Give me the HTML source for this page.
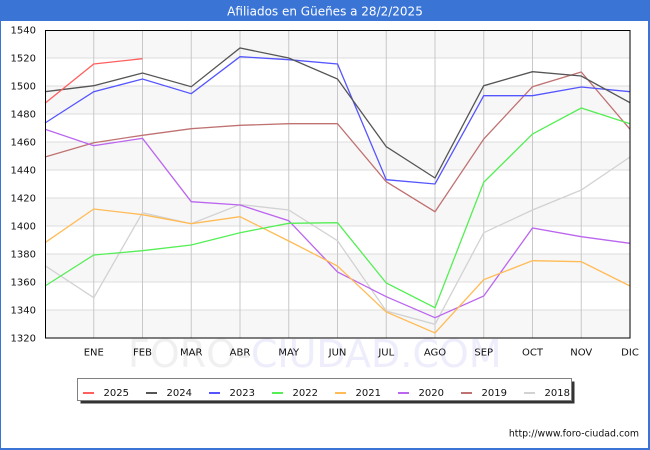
<!DOCTYPE html>
<html>
<head>
<meta charset="utf-8">
<style>
html,body{margin:0;padding:0;background:#fff;}
body{width:650px;height:450px;overflow:hidden;}
svg{display:block;}
text{font-family:"DejaVu Sans","Liberation Sans",sans-serif;}
</style>
</head>
<body>
<svg width="650" height="450" viewBox="0 0 650 450" xmlns="http://www.w3.org/2000/svg">
  <!-- outer border -->
  <rect x="0" y="0" width="650" height="450" fill="#fff"/>
  <rect x="0.5" y="0.5" width="648" height="448.5" fill="none" stroke="#3a75d6" stroke-width="1"/>
  <rect x="648" y="0" width="2" height="450" fill="#3a75d6"/>
  <rect x="0" y="448" width="650" height="2" fill="#3a75d6"/>
  <!-- title bar -->
  <rect x="0" y="0" width="650" height="21" fill="#3a75d6"/>
  <text x="325" y="15.5" font-size="12" fill="#fff" text-anchor="middle">Afiliados en Güeñes a 28/2/2025</text>

  <!-- watermark -->
  <text x="128" y="367" font-size="38" fill="#f0f0f0">FORO-<tspan fill="#ededfc">CIUDAD.COM</tspan></text>

  <!-- plot bands -->
  <rect x="45" y="30" width="585" height="308" fill="#fff"/>
  <rect x="45" y="30" width="585" height="28" fill="#f7f7f7"/>
  <rect x="45" y="86" width="585" height="28" fill="#f7f7f7"/>
  <rect x="45" y="142" width="585" height="28" fill="#f7f7f7"/>
  <rect x="45" y="198" width="585" height="28" fill="#f7f7f7"/>
  <rect x="45" y="254" width="585" height="28" fill="#f7f7f7"/>
  <rect x="45" y="310" width="585" height="28" fill="#f7f7f7"/>

  <!-- horizontal grid -->
  <g stroke="#dcdcdc" stroke-width="1">
    <line x1="45" y1="58" x2="630" y2="58"/>
    <line x1="45" y1="86" x2="630" y2="86"/>
    <line x1="45" y1="114" x2="630" y2="114"/>
    <line x1="45" y1="142" x2="630" y2="142"/>
    <line x1="45" y1="170" x2="630" y2="170"/>
    <line x1="45" y1="198" x2="630" y2="198"/>
    <line x1="45" y1="226" x2="630" y2="226"/>
    <line x1="45" y1="254" x2="630" y2="254"/>
    <line x1="45" y1="282" x2="630" y2="282"/>
    <line x1="45" y1="310" x2="630" y2="310"/>
  </g>
  <!-- vertical grid -->
  <g stroke="#c8c8c8" stroke-width="1">
    <line x1="93.75" y1="30" x2="93.75" y2="338"/>
    <line x1="142.5" y1="30" x2="142.5" y2="338"/>
    <line x1="191.25" y1="30" x2="191.25" y2="338"/>
    <line x1="240" y1="30" x2="240" y2="338"/>
    <line x1="288.75" y1="30" x2="288.75" y2="338"/>
    <line x1="337.5" y1="30" x2="337.5" y2="338"/>
    <line x1="386.25" y1="30" x2="386.25" y2="338"/>
    <line x1="435" y1="30" x2="435" y2="338"/>
    <line x1="483.75" y1="30" x2="483.75" y2="338"/>
    <line x1="532.5" y1="30" x2="532.5" y2="338"/>
    <line x1="581.25" y1="30" x2="581.25" y2="338"/>
  </g>

  <!-- series -->
  <g fill="none" stroke-width="1.3" stroke-linejoin="miter">
    <polyline stroke="#d2d2d2" points="45,265.7 93.75,297.7 142.5,212.7 191.25,223.7 240,204.5 288.75,210 337.5,240.7 386.25,311 435,324.3 483.75,232.7 532.5,210 581.25,190 630,157"/>
    <polyline stroke="#c07272" points="45,157 93.75,142.7 142.5,135.3 191.25,128.7 240,125.3 288.75,123.7 337.5,123.7 386.25,181.7 435,211.7 483.75,139 532.5,86.7 581.25,72 630,129.3"/>
    <polyline stroke="#bb66ee" points="45,129.3 93.75,145.7 142.5,138.3 191.25,201.7 240,205 288.75,220.7 337.5,272 386.25,296.7 435,317.7 483.75,296 532.5,228 581.25,236.7 630,243.3"/>
    <polyline stroke="#ffbb55" points="45,242.7 93.75,209 142.5,214.7 191.25,223.7 240,216.7 288.75,241 337.5,266 386.25,312 435,333 483.75,279.7 532.5,260.7 581.25,261.7 630,286"/>
    <polyline stroke="#55ee55" points="45,286 93.75,255 142.5,250.7 191.25,245 240,232.7 288.75,223.3 337.5,222.7 386.25,283 435,307.7 483.75,182.3 532.5,134 581.25,108 630,123.7"/>
    <polyline stroke="#5555ff" points="45,123 93.75,91.7 142.5,79 191.25,93.7 240,56.7 288.75,59.7 337.5,64 386.25,179.7 435,184 483.75,95.7 532.5,95.7 581.25,87 630,91.7"/>
    <polyline stroke="#555555" points="45,91.7 93.75,85.7 142.5,73 191.25,86.7 240,48 288.75,58 337.5,79 386.25,146.7 435,178 483.75,85.7 532.5,71.7 581.25,76 630,102.7"/>
    <polyline stroke="#ff5f5f" points="45,103.3 93.75,64 142.5,58.7"/>
  </g>

  <!-- frame -->
  <rect x="45.5" y="30.5" width="584.5" height="307.5" fill="none" stroke="#000" stroke-width="1"/>

  <!-- y labels -->
  <g font-size="10" fill="#111" text-anchor="end">
    <text x="36" y="33.5">1540</text>
    <text x="36" y="61.5">1520</text>
    <text x="36" y="89.5">1500</text>
    <text x="36" y="117.5">1480</text>
    <text x="36" y="145.5">1460</text>
    <text x="36" y="173.5">1440</text>
    <text x="36" y="201.5">1420</text>
    <text x="36" y="229.5">1400</text>
    <text x="36" y="257.5">1380</text>
    <text x="36" y="285.5">1360</text>
    <text x="36" y="313.5">1340</text>
    <text x="36" y="341.5">1320</text>
  </g>
  <!-- x labels -->
  <g font-size="10" fill="#111" text-anchor="middle">
    <text x="93.75" y="355.3">ENE</text>
    <text x="142.5" y="355.3">FEB</text>
    <text x="191.25" y="355.3">MAR</text>
    <text x="240" y="355.3">ABR</text>
    <text x="288.75" y="355.3">MAY</text>
    <text x="337.5" y="355.3">JUN</text>
    <text x="386.25" y="355.3">JUL</text>
    <text x="435" y="355.3">AGO</text>
    <text x="483.75" y="355.3">SEP</text>
    <text x="532.5" y="355.3">OCT</text>
    <text x="581.25" y="355.3">NOV</text>
    <text x="630" y="355.3">DIC</text>
  </g>

  <!-- legend -->
  <rect x="80.5" y="381.5" width="494" height="22" fill="#333"/>
  <rect x="77.5" y="378.5" width="494" height="22" fill="#fff" stroke="#808080" stroke-width="1"/>
  <g stroke-width="2">
    <line x1="83" y1="393" x2="94" y2="393" stroke="#ff5f5f"/>
    <line x1="146" y1="393" x2="157" y2="393" stroke="#555555"/>
    <line x1="209" y1="393" x2="220" y2="393" stroke="#5555ff"/>
    <line x1="272" y1="393" x2="283" y2="393" stroke="#55ee55"/>
    <line x1="335" y1="393" x2="346" y2="393" stroke="#ffbb55"/>
    <line x1="398" y1="393" x2="409" y2="393" stroke="#bb66ee"/>
    <line x1="461" y1="393" x2="472" y2="393" stroke="#c07272"/>
    <line x1="524" y1="393" x2="535" y2="393" stroke="#d2d2d2"/>
  </g>
  <g font-size="10" fill="#111">
    <text x="103.5" y="396">2025</text>
    <text x="166.5" y="396">2024</text>
    <text x="229.5" y="396">2023</text>
    <text x="292.5" y="396">2022</text>
    <text x="355.5" y="396">2021</text>
    <text x="418.5" y="396">2020</text>
    <text x="481.5" y="396">2019</text>
    <text x="544.5" y="396">2018</text>
  </g>

  <!-- url -->
  <text x="639" y="436.5" font-size="9.4" fill="#111" text-anchor="end">http://www.foro-ciudad.com</text>
</svg>
</body>
</html>
